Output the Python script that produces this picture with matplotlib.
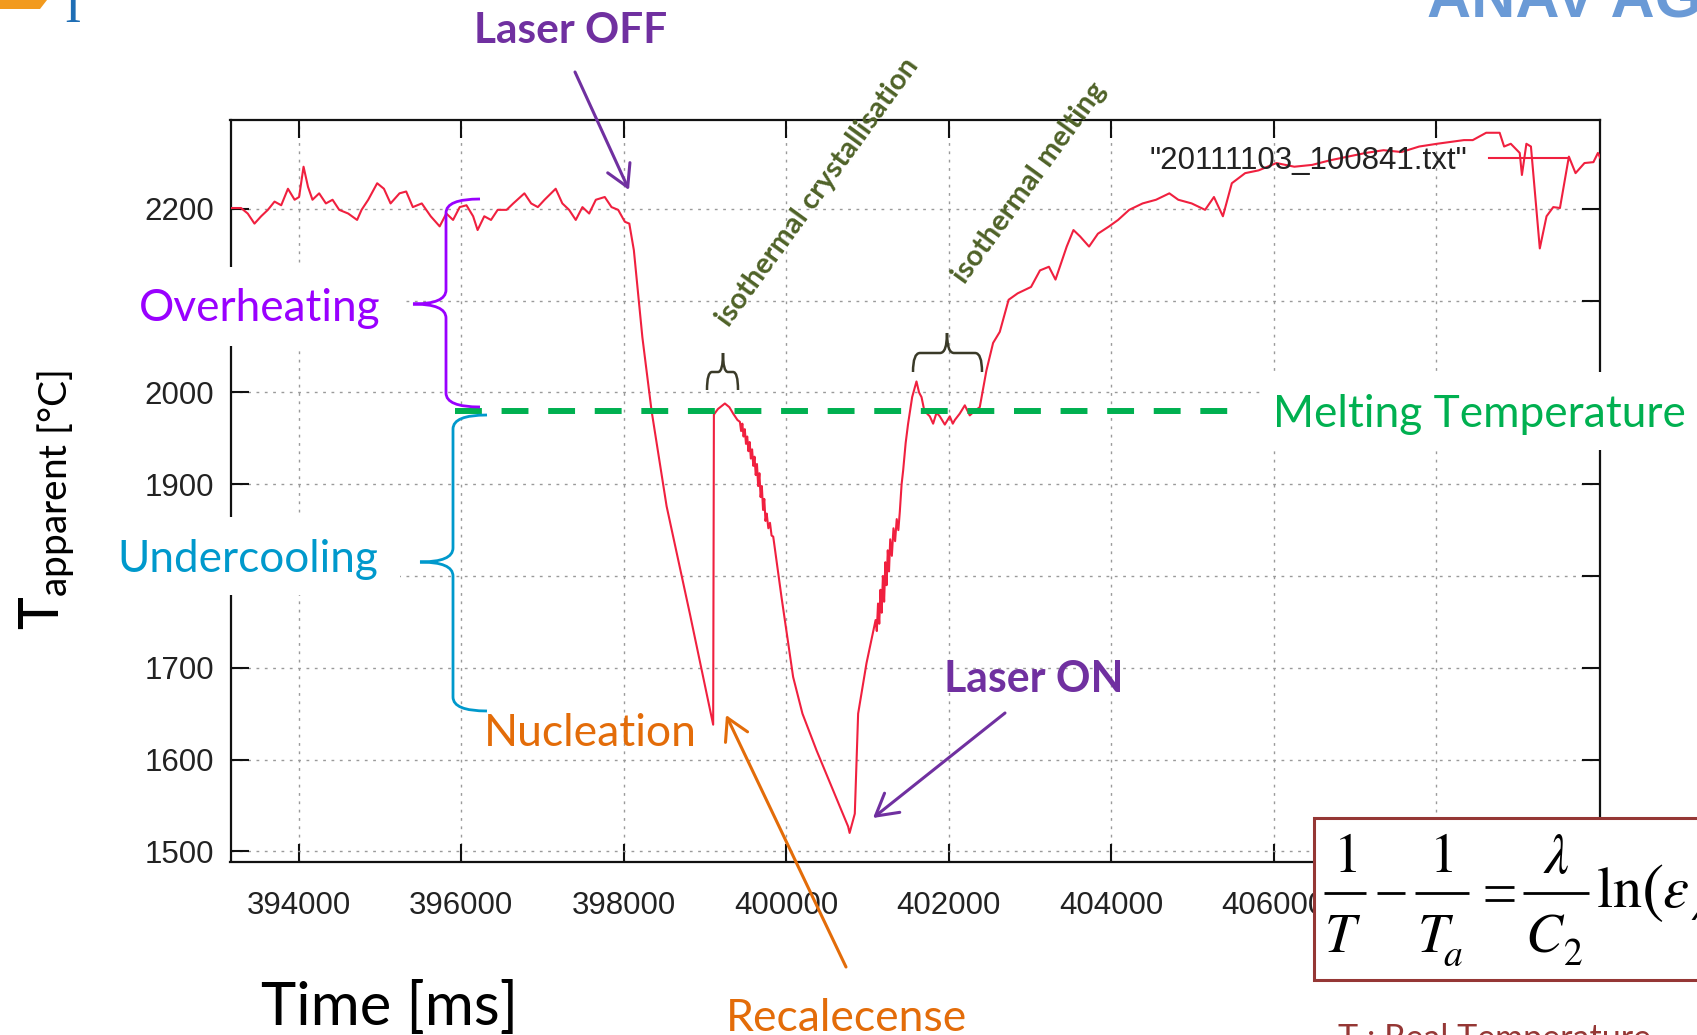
import matplotlib
matplotlib.use("Agg")
import matplotlib.pyplot as plt
from matplotlib.patches import Rectangle, FancyArrowPatch, PathPatch, Polygon
from matplotlib.path import Path
from matplotlib.lines import Line2D

# ---------------- data ----------------
time_ms = [
    393165, 393291, 393373, 393456, 393538, 393621, 393703, 393785, 393868, 393950,
    394005, 394060, 394115, 394170, 394252, 394335, 394417, 394499, 394609, 394719,
    394774, 394856, 394966, 395049, 395131, 395241, 395323, 395405, 395515, 395625,
    395735, 395817, 395900, 395982, 396065, 396147, 396202, 396284, 396367, 396449,
    396559, 396641, 396778, 396861, 396943, 397026, 397163, 397245, 397328, 397410,
    397492, 397575, 397657, 397767, 397850, 397932, 398014, 398069,
    398125, 398230, 398343, 398528, 398814, 399101,
    399110, 399160, 399245, 399300, 399347, 399400,
    399430, 399445, 399460, 399475, 399490, 399505, 399520, 399535, 399550, 399565,
    399580, 399595, 399610, 399625, 399640, 399655, 399670, 399685, 399700, 399715,
    399730, 399745, 399760, 399780, 399800, 399820, 399840,
    399942, 400085, 400200, 400373, 400560, 400762, 400780, 400844, 400885, 400988,
    401060,
    401100, 401115, 401130, 401145, 401160, 401175, 401190, 401205, 401220, 401235,
    401250, 401265, 401280, 401300, 401320, 401340, 401360, 401380, 401398,
    401420, 401439, 401470, 401500, 401550, 401603, 401635, 401665, 401700, 401767,
    401808, 401850, 401890, 401952, 402013, 402050, 402075, 402136, 402198, 402259,
    402320, 402382, 402464, 402546, 402628,
    402737, 402848, 403013, 403123, 403233, 403314, 403452, 403535, 403617, 403727,
    403836, 403974, 404084, 404221, 404386, 404551, 404715, 404825, 404990, 405155,
    405264, 405374, 405484, 405648, 405813, 406033, 406253, 406473, 406693, 406912,
    407132, 407351, 407571, 407790, 408009, 408175, 408340, 408449, 408614, 408780,
    408835, 408917, 409027, 409054, 409109, 409165, 409274, 409357, 409440, 409522,
    409632, 409714, 409824, 409934, 409989, 410033,
]
temp_c = [
    2201, 2201, 2195, 2184, 2192, 2199, 2208, 2204, 2222, 2210,
    2213, 2246, 2224, 2210, 2217, 2206, 2210, 2199, 2195, 2188,
    2199, 2210, 2228, 2222, 2206, 2217, 2219, 2202, 2206, 2192,
    2181, 2195, 2188, 2202, 2204, 2192, 2177, 2192, 2188, 2199,
    2199, 2206, 2217, 2206, 2202, 2210, 2222, 2206, 2199, 2188,
    2202, 2195, 2210, 2213, 2202, 2199, 2186, 2184,
    2155, 2060, 1980, 1876, 1759, 1638,
    1976, 1982, 1988, 1984, 1977, 1970,
    1968, 1958, 1966, 1952, 1960, 1944, 1952, 1936, 1946, 1928,
    1938, 1920, 1930, 1910, 1922, 1898, 1912, 1886, 1898, 1872,
    1884, 1860, 1868, 1852, 1858, 1844, 1843,
    1777, 1690, 1650, 1610, 1570, 1527, 1520, 1541, 1650, 1705,
    1735,
    1752, 1740, 1770, 1748, 1785, 1760, 1800, 1772, 1815, 1790,
    1828, 1805, 1840, 1822, 1852, 1838, 1862, 1850, 1870,
    1900, 1915, 1945, 1966, 1995, 2012, 2000, 1995, 1980, 1974,
    1966, 1978, 1974, 1965, 1974, 1966, 1970, 1977, 1986, 1975,
    1980, 1984, 2024, 2054, 2066,
    2101, 2108, 2115, 2133, 2137, 2123, 2159, 2177, 2170, 2159,
    2173, 2181, 2188, 2199, 2206, 2210, 2217, 2210, 2206, 2199,
    2213, 2192, 2228, 2239, 2242, 2250, 2246, 2248, 2253, 2257,
    2261, 2264, 2262, 2268, 2271, 2273, 2275, 2275, 2283, 2283,
    2268, 2271, 2261, 2237, 2271, 2268, 2157, 2192, 2202, 2201,
    2257, 2239, 2250, 2251, 2261, 2253,
]
series_label = '"20111103_100841.txt"'
melt_time = [395923, 405433]
melt_temp = [1980, 1980]
x_ticks = [394000, 396000, 398000, 400000, 402000, 404000, 406000, 408000]
y_ticks = [1500, 1600, 1700, 1800, 1900, 2000, 2100, 2200]
# labels of 1800 and 2100 are hidden behind the annotation boxes in the picture
y_ticklabels = ['1500', '1600', '1700', '', '1900', '2000', '', '2200']

# ---------------- figure ----------------
W, H = 1697, 1035
plt.rcParams['font.family'] = ['Lato', 'DejaVu Sans']
plt.rcParams['mathtext.fontset'] = 'custom'
plt.rcParams['mathtext.rm'] = 'Lato'
plt.rcParams['mathtext.it'] = 'Lato:italic'
plt.rcParams['mathtext.bf'] = 'Lato:bold'

fig = plt.figure(figsize=(W / 100, H / 100), dpi=100)
fig.patch.set_facecolor('white')


def fx(px):
    return px / W


def fy(py):
    return 1 - py / H


AX_L, AX_R, AX_T, AX_B = 230.5, 1599.6, 120.1, 861.5
ax = fig.add_axes([fx(AX_L), fy(AX_B), (AX_R - AX_L) / W, (AX_B - AX_T) / H])

RED = '#F0203F'
ax.plot(time_ms, temp_c, color=RED, lw=1.5, label=series_label, zorder=3)
ax.plot(melt_time, melt_temp, color='#00B050', lw=4.3, dashes=(4.5, 3.3),
        dash_capstyle='butt', solid_capstyle='butt', clip_on=False, zorder=4)

ax.set_xlim(393161, 410010)
ax.set_ylim(1488.9, 2296.8)
ax.set_xticks(x_ticks)
ax.set_yticks(y_ticks)
ax.set_xticklabels([str(v) for v in x_ticks])
ax.set_yticklabels(y_ticklabels)
for lab in ax.get_xticklabels() + ax.get_yticklabels():
    lab.set_fontfamily('Liberation Sans')
    lab.set_color('#222222')
ax.tick_params(direction='in', length=13, width=1.5, top=True, right=True,
               labelsize=22.5, color='#111111')
ax.tick_params(axis='x', pad=21)
ax.tick_params(axis='y', pad=12)
ax.grid(True, color='#9a9a9a', lw=1.0, linestyle=(0, (2, 4)))
for s in ax.spines.values():
    s.set_linewidth(1.6)
    s.set_color('#111111')

leg = ax.legend(loc='center right',
                bbox_to_anchor=((1567 - AX_L) / (AX_R - AX_L), (AX_B - 161) / (AX_B - AX_T)),
                frameon=False, markerfirst=False, handlelength=2.5, handletextpad=0.7,
                borderpad=0, borderaxespad=0,
                prop={'family': 'Liberation Sans', 'size': 22.5})
for t in leg.get_texts():
    t.set_color('#222222')

# ---------------- white boxes ----------------
def wbox(x0, y0, x1, y1, z=2, ec='none', lw=0):
    r = Rectangle((fx(x0), fy(y1)), (x1 - x0) / W, (y1 - y0) / H,
                  transform=fig.transFigure, facecolor='white', edgecolor=ec,
                  lw=lw, zorder=z)
    fig.add_artist(r)

wbox(118, 267, 402, 346)
wbox(103, 517, 400, 595)
wbox(1262, 372, 1720, 450)
wbox(1314, 818, 1720, 980, z=2.5, ec='#953735', lw=2.2)

# ---------------- texts ----------------
PURPLE = '#7030A0'
VIOLET = '#9900FF'
BLUE = '#0099CC'
GREEN = '#00B050'
ORANGE = '#E36C09'
OLIVE = '#4F6228'


def ftext(x, y, s, **kw):
    kw.setdefault('zorder', 3)
    return fig.text(fx(x), fy(y), s, **kw)

ftext(571, 43, 'Laser OFF', color=PURPLE, fontsize=30.5, fontweight='bold', ha='center', va='baseline')
ftext(1034, 692, 'Laser ON', color=PURPLE, fontsize=30.8, fontweight='bold', ha='center', va='baseline')
ftext(260, 321, 'Overheating', color=VIOLET, fontsize=31.8, ha='center', va='baseline')
ftext(248, 572, 'Undercooling', color=BLUE, fontsize=31.8, ha='center', va='baseline')
ftext(1479, 427, 'Melting Temperature', color=GREEN, fontsize=31.9, ha='center', va='baseline')
ftext(590, 746, 'Nucleation', color=ORANGE, fontsize=32, ha='center', va='baseline')
ftext(846, 1031, 'Recalecense', color=ORANGE, fontsize=32, ha='center', va='baseline')
ftext(818, 192, 'isothermal crystallisation', color=OLIVE, fontsize=21, fontweight='bold',
      rotation=54, ha='center', va='center', rotation_mode='anchor')
ftext(1029, 183, 'isothermal melting', color=OLIVE, fontsize=21, fontweight='bold',
      rotation=54, ha='center', va='center', rotation_mode='anchor')
ftext(390, 1025, 'Time [ms]', color='black', fontsize=43, ha='center', va='baseline')
ftext(59.5, 630, r'T$_{\mathrm{apparent}\ \mathrm{[°C]}}$', color='black', fontsize=40,
      rotation=90, rotation_mode='anchor', ha='left', va='baseline')
ftext(1338, 1023, 'T : Real Temperature', color='#953735', fontsize=24.5, ha='left', va='top')

# ---- equation, composed piece by piece ----
EQ = dict(math_fontfamily='stix', color='black', zorder=3.5)


def hline(x0, x1, y, lw=2.0):
    fig.add_artist(Line2D([fx(x0), fx(x1)], [fy(y), fy(y)], transform=fig.transFigure,
                          color='black', lw=lw, solid_capstyle='butt', zorder=3.5))

ftext(1345, 872, r'$\mathrm{1}$', fontsize=40, ha='center', va='baseline', **EQ)
hline(1324, 1366, 893)
ftext(1343, 952, r'$T$', fontsize=40, ha='center', va='baseline', **EQ)
hline(1377, 1405, 893)
ftext(1441, 872, r'$\mathrm{1}$', fontsize=40, ha='center', va='baseline', **EQ)
hline(1415, 1469, 893)
ftext(1436, 952, r'$T$', fontsize=40, ha='center', va='baseline', **EQ)
ftext(1453, 966, r'$a$', fontsize=27, ha='center', va='baseline', **EQ)
hline(1485, 1514, 887)
hline(1485, 1514, 900)
ftext(1556, 873, r'$\lambda$', fontsize=40, ha='center', va='baseline', **EQ)
hline(1523, 1589, 893)
ftext(1545, 952, r'$C$', fontsize=40, ha='center', va='baseline', **EQ)
ftext(1573, 965, r'$\mathrm{2}$', fontsize=27, ha='center', va='baseline', **EQ)
ftext(1596, 907, r'$\mathrm{ln}$', fontsize=42, ha='left', va='baseline', **EQ)
ftext(1641, 910, r'$\mathrm{(}$', fontsize=48, ha='left', va='baseline', **EQ)
ftext(1662, 907, r'$\varepsilon$', fontsize=42, ha='left', va='baseline', **EQ)
ftext(1691, 920, r'$\lambda$', fontsize=27, ha='left', va='baseline', **EQ)

# logo fragments at the top corners
ftext(1427, 17, 'ANAV AGH', color='#6A9AD6', fontsize=44, fontweight='bold',
      family='Liberation Sans', ha='left', va='baseline')
fig.add_artist(Polygon([(fx(0), fy(0)), (fx(47), fy(0)), (fx(40), fy(9)), (fx(0), fy(9))],
                       closed=True, transform=fig.transFigure, facecolor='#F29A1E',
                       edgecolor='none', zorder=3))
ftext(64, 22, 'I', color='#1F6EB5', fontsize=36, family='Liberation Serif',
      ha='left', va='baseline')

# ---------------- braces ----------------
M, C3, L = Path.MOVETO, Path.CURVE3, Path.LINETO


def to_fig(pts):
    return [(fx(x), fy(y)) for x, y in pts]


def vbrace(x0, ytop, ybot, xt, yt, hook, color, lw, r=14):
    pts = [(x0 + hook, ytop), (x0, ytop), (x0, ytop + r),
           (x0, yt - r), (x0, yt), (xt, yt),
           (x0, yt), (x0, yt + r),
           (x0, ybot - r), (x0, ybot), (x0 + hook, ybot)]
    codes = [M, C3, C3, L, C3, C3, C3, C3, L, C3, C3]
    fig.add_artist(PathPatch(Path(to_fig(pts), codes), transform=fig.transFigure,
                             facecolor='none', edgecolor=color, lw=lw, zorder=4))


def hbrace(xl, xr, ylegs, ybar, xt, ytip, color, lw, r=6):
    pts = [(xl, ylegs), (xl, ybar), (xl + r, ybar),
           (xt - r, ybar), (xt, ybar), (xt, ytip),
           (xt, ybar), (xt + r, ybar),
           (xr - r, ybar), (xr, ybar), (xr, ylegs)]
    codes = [M, C3, C3, L, C3, C3, C3, C3, L, C3, C3]
    fig.add_artist(PathPatch(Path(to_fig(pts), codes), transform=fig.transFigure,
                             facecolor='none', edgecolor=color, lw=lw, zorder=4))

vbrace(446, 199, 407, 413, 304, 34, VIOLET, 2.0)
vbrace(453, 415, 711, 420, 562, 34, BLUE, 2.0)
hbrace(707, 738, 390, 372, 723, 353, '#3A3A28', 1.8, r=5)
hbrace(913, 982, 372, 353, 947, 333, '#3A3A28', 1.8, r=7)

# ---------------- arrows ----------------
def farrow(p0, p1, color):
    a = FancyArrowPatch(to_fig([p0])[0], to_fig([p1])[0], transform=fig.transFigure,
                        arrowstyle='->,head_length=0.7,head_width=0.4', mutation_scale=22,
                        color=color, lw=2.2, shrinkA=0, shrinkB=0, zorder=4)
    fig.add_artist(a)

farrow((575, 72), (629, 190), PURPLE)
farrow((846, 967), (726, 715), ORANGE)
farrow((1005, 713), (873, 818), PURPLE)

fig.savefig('out.png', dpi=100, facecolor='white')
